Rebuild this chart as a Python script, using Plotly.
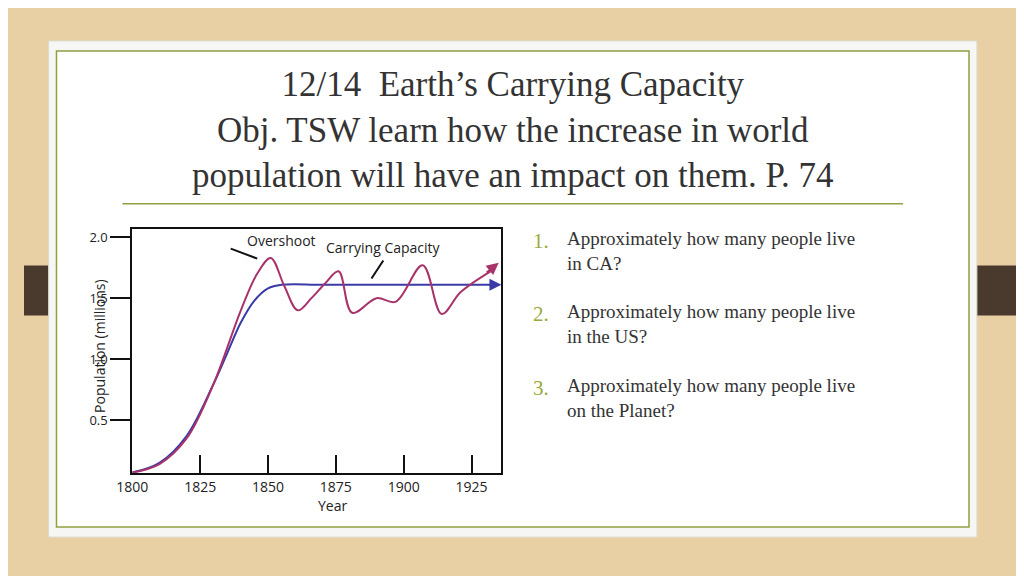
import plotly.graph_objects as go

blue_years = [1800, 1810, 1820, 1830, 1835, 1840, 1845, 1850, 1855, 1870, 1900, 1933]
blue_vals  = [0.07, 0.15, 0.37, 0.80, 1.05, 1.30, 1.48, 1.58, 1.61, 1.61, 1.61, 1.61]
red_years = [1800, 1810, 1820, 1830, 1840, 1846, 1851, 1856, 1861, 1866, 1871, 1876, 1881, 1890, 1897, 1907, 1914, 1921, 1932]
red_vals  = [0.07, 0.14, 0.35, 0.80, 1.40, 1.70, 1.83, 1.60, 1.40, 1.50, 1.62, 1.72, 1.38, 1.50, 1.47, 1.77, 1.37, 1.55, 1.72]
x_ticks = [1800, 1825, 1850, 1875, 1900, 1925]
y_ticks = [0.5, 1.0, 1.5, 2.0]
questions = ["Approximately how many people live<br>in CA?",
             "Approximately how many people live<br>in the US?",
             "Approximately how many people live<br>on the Planet?"]

W, H = 1024, 576
DX, DY = -15, -8
def px(x): return (x + DX) / W
def py(y): return 1 - (y + DY) / H

fig = go.Figure()
fig.add_trace(go.Scatter(x=blue_years, y=blue_vals, mode="lines",
                         line=dict(color="#3b3ba8", width=2, shape="spline"), hoverinfo="skip"))
fig.add_trace(go.Scatter(x=red_years, y=red_vals, mode="lines",
                         line=dict(color="#a8336b", width=2, shape="spline", smoothing=1.0), hoverinfo="skip"))

ann = []
ann.append(dict(x=1936, y=1.61, ax=blue_years[-1]-2, ay=1.61, xref="x", yref="y", axref="x", ayref="y",
                showarrow=True, arrowhead=2, arrowsize=1.2, arrowwidth=2, arrowcolor="#3b3ba8", text=""))
ann.append(dict(x=1935, y=1.79, ax=red_years[-1]-2, ay=1.70, xref="x", yref="y", axref="x", ayref="y",
                showarrow=True, arrowhead=2, arrowsize=1.2, arrowwidth=2, arrowcolor="#a8336b", text=""))
ann.append(dict(x=px(240), y=py(240), xref="paper", yref="paper", text="Overshoot", showarrow=False,
                font=dict(family="Open Sans", size=14, color="#222")))
ann.append(dict(x=px(380), y=py(247), xref="paper", yref="paper", text="Carrying Capacity", showarrow=False,
                font=dict(family="Open Sans", size=14, color="#222")))
ann.append(dict(x=px(312), y=py(517), xref="paper", yref="paper", text="Year", showarrow=False,
                font=dict(family="Open Sans", size=14, color="#222")))
ann.append(dict(x=px(80), y=py(345), xref="paper", yref="paper", text="Population (millions)", showarrow=False,
                textangle=-90, font=dict(family="Open Sans", size=14, color="#222")))
ann.append(dict(x=px(512), y=py(62), xref="paper", yref="paper", showarrow=False, yanchor="top",
                text="12/14  Earth’s Carrying Capacity<br>Obj. TSW learn how the increase in world<br>population will have an impact on them. P. 74",
                font=dict(family="Liberation Serif", size=35, color="#333"), align="center"))
qy = [250, 324, 398]
for i, (q, y) in enumerate(zip(questions, qy)):
    ann.append(dict(x=px(530), y=py(y - 10), xref="paper", yref="paper", xanchor="left", yanchor="middle",
                    showarrow=False, text=f"{i+1}.", font=dict(family="Liberation Serif", size=21, color="#9aa83a")))
    ann.append(dict(x=px(565), y=py(y), xref="paper", yref="paper", xanchor="left", yanchor="middle",
                    showarrow=False, text=q, align="left",
                    font=dict(family="Liberation Serif", size=19, color="#333")))

shapes = [
    dict(type="rect", xref="paper", yref="paper", x0=0, x1=1, y0=0, y1=1, fillcolor="#e9cfa4", line_width=0, layer="below"),
    dict(type="rect", xref="paper", yref="paper", x0=0, x1=px(65), y0=py(315), y1=py(265), fillcolor="#4a3a2e", line_width=0, layer="below"),
    dict(type="rect", xref="paper", yref="paper", x0=px(960), x1=1, y0=py(315), y1=py(265), fillcolor="#4a3a2e", line_width=0, layer="below"),
    dict(type="rect", xref="paper", yref="paper", x0=px(40), x1=px(983), y0=py(537), y1=py(40), fillcolor="#f6f6f4", line=dict(color="#dcdcd0", width=1), layer="below"),
    dict(type="rect", xref="paper", yref="paper", x0=px(48), x1=px(975), y0=py(527), y1=py(50), fillcolor="#ffffff", line=dict(color="#8ea040", width=1.5), layer="below"),
    dict(type="line", xref="paper", yref="paper", x0=px(115), x1=px(908), y0=py(203), y1=py(203), line=dict(color="#8ea040", width=1.5)),
    dict(type="line", xref="paper", yref="paper", x0=px(225), x1=px(252), y0=py(248), y1=py(258), line=dict(color="#111", width=2)),
    dict(type="line", xref="paper", yref="paper", x0=px(380), x1=px(368), y0=py(260), y1=py(278), line=dict(color="#111", width=2)),
]

fig.update_layout(
    width=W, height=H, margin=dict(l=0, r=0, t=0, b=0), showlegend=False,
    paper_bgcolor="#e9cfa4", plot_bgcolor="white", annotations=ann, shapes=shapes,
    xaxis=dict(domain=[px(125), px(500)], range=[1800, 1936], tickvals=x_ticks, ticks="inside", ticklen=18,
               tickwidth=2, tickcolor="#111", showgrid=False, zeroline=False, showline=True, mirror=True,
               linecolor="#111", linewidth=2, tickfont=dict(family="Open Sans", size=14, color="#222")),
    yaxis=dict(domain=[py(473), py(228)], range=[0.065, 2.07], tickvals=y_ticks, ticktext=["0.5", "1.0", "1.5", "2.0"],
               ticks="outside", ticklen=20, tickwidth=2, tickcolor="#111", showgrid=False, zeroline=False,
               showline=True, mirror=True, linecolor="#111", linewidth=2,
               tickfont=dict(family="Open Sans", size=13, color="#222")),
)
fig.write_html("out.html")
